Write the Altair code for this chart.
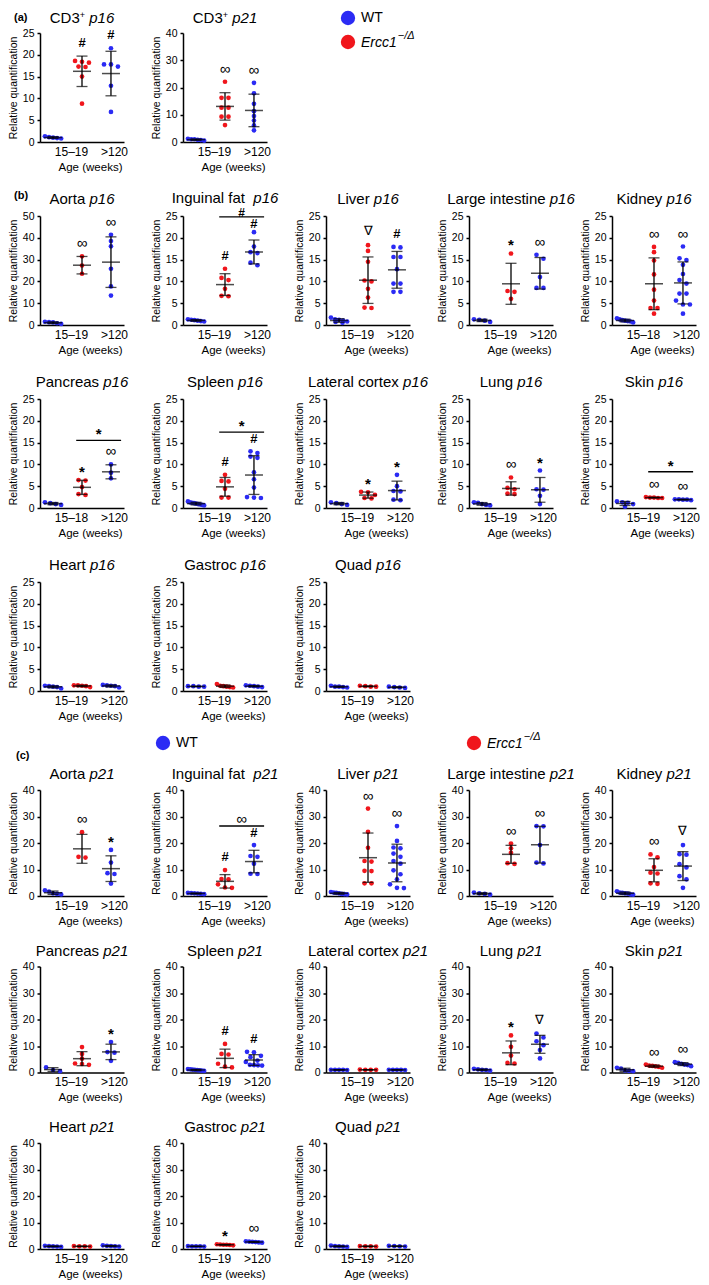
import altair as alt
import pandas as pd

FONT = "Liberation Sans"
BLUE = "#2b2bf4"
RED = "#f0161c"

W = 84
H_AB = 109
H_C = 106
SX = 59
SY_AB = 74
SY_C = 70.5
S_OUT = 9
XDOM = [0.55, 3.45]

# ---------------- data ----------------
# each tuple: (WT 15–19 wk, Ercc1-/Δ 15–19 wk, WT >120 wk)
cd3_p16 = ([1.3, 1.1, 0.9, 0.8, 1.0],
           [18.6, 18.4, 18.2, 17.3, 17.2, 15.0, 8.8],
           [21.5, 17.8, 17.8, 17.3, 12.9, 6.9])
cd3_p21 = ([0.5, 1.0, 1.2, 0.8, 1.0, 0.7],
           [22.1, 16.2, 16.2, 12.6, 12.6, 9.3, 9.3, 6.2],
           [21.7, 17.9, 14.0, 11.3, 9.5, 7.9, 6.1, 4.3])
aorta_p16 = ([0.5, 1.2, 1.5, 1.3, 0.8],
             [31.5, 27.3, 23.5],
             [41.4, 38.5, 36.1, 25.8, 17.7, 13.5])
inguinal_p16 = ([1.3, 0.9, 1.1, 0.8, 1.2, 1.0],
                [12.9, 10.8, 10.3, 8.3, 6.6, 6.7],
                [21.3, 18.0, 16.7, 16.5, 14.3, 13.7])
liver_p16 = ([0.7, 1.3, 1.7, 1.0, 0.5, 1.2, 0.8],
             [18.3, 17.0, 14.5, 10.2, 10.0, 8.3, 6.3, 4.0, 3.9],
             [17.9, 17.8, 15.6, 15.6, 12.8, 9.5, 9.5, 7.6, 7.6])
large_int_p16 = ([0.7, 1.2, 1.3, 1.0],
                 [16.4, 7.8, 7.6, 6.0],
                 [16.1, 15.2, 11.0, 8.5, 8.5])
kidney_p16 = ([0.6, 1.0, 1.5, 1.3, 0.8, 1.1, 0.9],
              [17.9, 16.7, 14.8, 11.6, 8.1, 5.6, 3.9, 3.9, 2.6],
              [18.0, 15.3, 14.9, 13.8, 11.7, 10.3, 9.5, 7.2, 7.2, 5.6, 4.7, 4.7, 2.6])
pancreas_p16 = ([0.7, 1.3, 1.1, 0.9],
                [6.4, 6.3, 4.8, 3.2, 3.0],
                [10.0, 8.1, 6.8])
spleen_p16 = ([0.6, 1.0, 1.5, 1.2, 0.8, 1.1, 0.9, 0.7, 1.3],
              [7.6, 6.2, 6.1, 4.4, 2.4, 2.4],
              [13.0, 12.6, 11.8, 11.5, 8.2, 6.6, 4.7, 2.5, 2.4, 2.3])
latcortex_p16 = ([0.7, 1.1, 1.3, 0.9],
                 [3.7, 3.6, 3.0, 2.3, 2.2],
                 [7.6, 5.0, 3.9, 3.8, 1.9, 1.8])
lung_p16 = ([0.7, 1.3, 1.2, 0.9, 0.6],
            [7.0, 4.6, 4.3, 3.3, 3.2],
            [8.6, 4.3, 4.2, 2.8, 0.9])
skin_p16 = ([1.3, 1.5, 1.2, 0.3, 0.9],
            [2.5, 2.4, 2.3, 2.3, 2.4],
            [2.0, 1.9, 1.9, 2.0, 1.8])
heart_p16 = ([1.1, 1.0, 0.9, 1.2, 0.6],
             [1.3, 1.2, 1.1, 1.3, 0.9],
             [1.4, 1.2, 1.1, 1.3, 0.8])
gastroc_p16 = ([1.1, 1.0, 1.0, 1.1],
               [1.6, 1.0, 0.9, 1.1, 0.8, 1.2],
               [1.3, 1.1, 1.0, 1.2, 0.9])
quad_p16 = ([1.2, 1.0, 0.9, 1.0, 0.8],
            [1.1, 1.0, 1.2, 1.0],
            [0.9, 0.8, 1.0, 0.7])

aorta_p21 = ([0.6, 1.0, 1.7, 2.1, 0.8],
             [24.1, 14.8, 14.5],
             [17.4, 12.6, 8.6, 8.3, 4.7])
inguinal_p21 = ([1.2, 0.8, 1.0, 1.1, 0.9, 0.7],
                [9.8, 6.4, 6.3, 4.4, 3.2, 3.1],
                [19.2, 15.1, 14.8, 12.2, 8.4, 8.3])
liver_p21 = ([0.8, 1.5, 1.3, 0.6, 1.0, 1.2, 0.7],
             [33.0, 24.2, 18.2, 13.2, 13.0, 9.5, 9.4, 4.8, 4.8],
             [26.4, 20.8, 18.3, 18.0, 16.0, 14.8, 13.2, 12.2, 9.7, 8.2, 6.3, 4.4, 3.1, 3.0])
large_int_p21 = ([0.5, 1.3, 1.0, 0.8],
                 [19.8, 18.0, 16.3, 12.4, 12.1],
                 [26.4, 26.3, 19.2, 12.6, 12.3])
kidney_p21 = ([0.5, 1.0, 1.8, 1.2, 0.6, 0.9, 1.3],
              [15.7, 14.6, 10.9, 8.8, 8.5, 4.8, 4.6],
              [19.2, 15.8, 15.6, 12.0, 10.8, 7.5, 6.3, 3.1])
pancreas_p21 = ([0.5, 1.9, 0.9],
                [9.6, 7.0, 5.2, 3.4, 3.2, 2.9],
                [11.5, 7.7, 7.5, 4.4])
spleen_p21 = ([0.7, 1.0, 1.3, 0.9, 1.2, 0.8, 1.1, 0.6],
              [10.8, 7.0, 6.8, 3.3, 2.2, 1.9],
              [7.8, 7.6, 6.3, 5.8, 4.5, 4.0, 2.9, 2.8, 2.7, 2.6])
latcortex_p21 = ([1.0, 1.0, 1.0, 0.9, 1.0],
                 [1.0, 1.1, 1.0, 1.0],
                 [1.0, 1.0, 0.9, 1.0, 1.0])
lung_p21 = ([0.7, 1.4, 1.2, 0.9, 1.0],
            [14.0, 9.7, 6.4, 3.6, 3.4],
            [14.7, 13.2, 11.8, 10.3, 8.5, 5.3])
skin_p21 = ([1.8, 1.5, 0.6, 0.5, 0.8],
            [3.0, 2.5, 2.3, 2.1, 1.8, 2.6],
            [3.9, 3.6, 3.3, 2.8, 2.4, 3.0])
heart_p21 = ([1.2, 1.0, 0.9, 1.1, 0.8],
             [1.0, 0.9, 1.1, 1.0],
             [1.4, 1.2, 1.0, 0.9, 1.1])
gastroc_p21 = ([1.0, 1.1, 0.9, 1.0, 1.0],
               [1.8, 1.6, 1.5, 1.7, 1.4, 1.6],
               [2.8, 2.6, 2.5, 2.7, 2.4, 2.9])
quad_p21 = ([1.3, 1.0, 0.9, 0.8, 1.1],
            [1.0, 1.1, 0.9, 1.0],
            [1.1, 1.0, 1.2, 0.9])

# significance marks: (above Ercc1 15–19, above WT >120, over bracket, bracket level)
NO_SIG = (None, None, None, None)

# ---------------- helpers ----------------
CW = {' ': 278, 'A': 667, 'B': 667, 'C': 722, 'D': 722, 'E': 667, 'F': 611, 'G': 778,
      'H': 722, 'I': 278, 'K': 667, 'L': 556, 'P': 667, 'Q': 778, 'S': 667, 'T': 611,
      'W': 944, 'a': 556, 'b': 556, 'c': 500, 'd': 556, 'e': 556, 'f': 278, 'g': 556,
      'h': 556, 'i': 222, 'j': 222, 'k': 500, 'l': 222, 'm': 833, 'n': 556, 'o': 556,
      'p': 556, 'q': 556, 'r': 333, 's': 500, 't': 278, 'u': 556, 'v': 500, 'w': 722,
      'x': 500, 'y': 500, 'z': 500, '+': 584, '−': 584, '/': 278, 'Δ': 668}


def tw(s, size):
    return sum(CW.get(c, 556) for c in s) * size / 1000.0


ONE = pd.DataFrame({"k": [0]})


def label(s, x, y, size=15, italic=False, bold=False, align="left", baseline="alphabetic"):
    return alt.Chart(ONE).mark_text(
        text=s, align=align, baseline=baseline, font=FONT, fontSize=size,
        fontStyle="italic" if italic else "normal",
        fontWeight="bold" if bold else "normal", color="black",
    ).encode(x=alt.value(x), y=alt.value(y))


def dot(color, x, y, size=205):
    return alt.Chart(ONE).mark_circle(size=size, color=color, opacity=1).encode(
        x=alt.value(x), y=alt.value(y))


def legend_item(color, x, y, name):
    layers = [dot(color, x, y)]
    tx = x + 13
    if name == "WT":
        layers.append(label("WT", tx, y, size=14, baseline="middle"))
    else:
        layers.append(label("Ercc1", tx, y + 1, size=14, italic=True, baseline="middle"))
        layers.append(label("−/Δ", tx + tw("Ercc1", 14) + 1, y - 6, size=11,
                            italic=True, baseline="middle"))
    return layers


def title_layers(name, gene, cx, y):
    if name == "CD3":
        segs = [("CD3", 15, 0, False), ("+", 9, -5, False), (" ", 15, 0, False), (gene, 15, 0, True)]
    else:
        segs = [(name, 15, 0, False), (" ", 15, 0, False), (gene, 15, 0, True)]
    total = sum(tw(t, s) for t, s, _, _ in segs)
    x = cx - total / 2
    out = []
    for t, s, dy, it in segs:
        if t.strip():
            out.append(label(t, x, y + dy, size=s, italic=it))
        x += tw(t, s)
    return out


def swarm(vals, u):
    thr = 4.0 * u
    order = sorted(range(len(vals)), key=lambda i: -vals[i])
    rows = []
    for i in order:
        if rows and rows[-1][0] - vals[i] <= thr:
            rows[-1][1].append(i)
        else:
            rows.append([vals[i], [i]])
    offs = [0.0] * len(vals)
    for _, idx in rows:
        n = len(idx)
        if n > 1:
            st = min(0.24, 0.56 / (n - 1))
            for k, i in enumerate(idx):
                offs[i] = (k - (n - 1) / 2) * st
    return offs


PAD_PX = {"#": 13, "∞": 13, "∇": 14, "*": 8}
BR_PAD_PX = {"#": 3.5, "∞": 7, "∇": 8, "*": 6}
SYM_SIZE = {"#": 13, "∞": 15, "∇": 13, "*": 15}
BR_SIZE = {"#": 12, "∞": 15, "∇": 13, "*": 15}
BOLD = {"#", "*"}


def panel(name, gene, data, sig, ymax, step, H, age="15–19", title_y=-12, extras=()):
    u = ymax / H
    pts_rows, summ_rows = [], []
    for gi, vals in enumerate(data, start=1):
        offs = swarm(vals, u)
        geno = "Ercc1" if gi == 2 else "WT"
        for v, o in zip(vals, offs):
            pts_rows.append({"x": gi + o, "v": v, "geno": geno})
        s = pd.Series(vals, dtype=float)
        m = float(s.mean())
        sd = float(s.std()) if len(s) > 1 else 0.0
        summ_rows.append({"g": gi, "m": m, "lo": m - sd, "hi": m + sd,
                          "top": max(float(s.max()), m + sd)})
    pts = pd.DataFrame(pts_rows)
    summ = pd.DataFrame(summ_rows)

    xs = alt.Scale(domain=XDOM, nice=False, zero=False)
    ys = alt.Scale(domain=[0, ymax], nice=False, zero=False)
    xa = alt.Axis(values=[2, 3], labelExpr=f"datum.value < 2.5 ? '{age}' : '>120'",
                  ticks=False, tickSize=0, labelPadding=4, labelFontSize=12,
                  labelOverlap=False, labelFlush=False,
                  labelOffset={"condition": {"test": "datum.value < 2.5", "value": -11}, "value": 3},
                  title="Age (weeks)", titleFontSize=11.5, titlePadding=4, titleX=50)
    ya = alt.Axis(values=list(range(0, ymax + 1, step)), tickSize=3, labelPadding=3,
                  labelFontSize=10.5, title="Relative quantification",
                  titleFontSize=10.5, titlePadding=4)

    def X(f):
        return alt.X(f, type="quantitative", scale=xs, axis=xa)

    def Y(f):
        return alt.Y(f, type="quantitative", scale=ys, axis=ya)

    layers = [
        alt.Chart(pts).mark_circle(size=22, opacity=1).encode(
            x=X("x"), y=Y("v"),
            color=alt.Color("geno:N", scale=alt.Scale(domain=["WT", "Ercc1"], range=[BLUE, RED]),
                            legend=None)),
        alt.Chart(summ).mark_rule(color="black", strokeWidth=1.3).encode(
            x=X("g"), y=Y("lo"), y2=alt.Y2("hi")),
        alt.Chart(summ).mark_tick(orient="horizontal", size=18, thickness=1.5, color="black").encode(
            x=X("g"), y=Y("m")),
        alt.Chart(summ).mark_tick(orient="horizontal", size=11, thickness=1.3, color="black").encode(
            x=X("g"), y=Y("lo")),
        alt.Chart(summ).mark_tick(orient="horizontal", size=11, thickness=1.3, color="black").encode(
            x=X("g"), y=Y("hi")),
    ]

    s2, s3, sb, br_y = sig
    cap = (br_y - 7 * u) if br_y is not None else None
    ann = []
    for gx, sym in ((2, s2), (3, s3)):
        if sym:
            yy = summ.loc[gx - 1, "top"] + PAD_PX[sym] * u
            if cap is not None:
                yy = min(yy, cap)
            ann.append({"x": gx, "y": yy, "s": sym, "fs": SYM_SIZE[sym]})
    if sb:
        br = pd.DataFrame({"x1": [1.8], "x2": [3.35], "y": [br_y]})
        layers.append(alt.Chart(br).mark_rule(color="black", strokeWidth=1.4).encode(
            x=X("x1"), x2=alt.X2("x2"), y=Y("y")))
        ann.append({"x": 2.575, "y": br_y + BR_PAD_PX[sb] * u, "s": sb, "fs": BR_SIZE[sb]})
    for a in ann:
        a["b"] = a["s"] in BOLD
    if ann:
        adf = pd.DataFrame(ann)
        for isb in (True, False):
            sub = adf[adf["b"] == isb][["x", "y", "s", "fs"]]
            if len(sub):
                layers.append(alt.Chart(sub).mark_text(
                    font=FONT, fontWeight="bold" if isb else "normal", baseline="middle",
                    color="black").encode(x=X("x"), y=Y("y"), text=alt.Text("s:N"),
                                          size=alt.Size("fs:Q", scale=None)))

    layers += title_layers(name, gene, W / 2, title_y)
    layers += list(extras)
    return alt.layer(*layers).properties(width=W, height=H)


def filler(H):
    return alt.Chart(ONE).mark_point(opacity=0).encode(
        x=alt.value(0), y=alt.value(0)).properties(width=W, height=H)


# ---------------- grid (a) + (b) ----------------
legend_top = alt.layer(dot("white", 22, -24, size=4),
                       *legend_item(BLUE, 22, -15, "WT"),
                       *legend_item(RED, 22, 9, "Ercc1")).properties(width=W, height=H_AB)

cells_ab = [
    panel("CD3", "p16", cd3_p16, ("#", "#", None, None), 25, 5, H_AB, title_y=-10,
          extras=[label("(a)", -26, -15, size=11, bold=True, baseline="middle")]),
    panel("CD3", "p21", cd3_p21, ("∞", "∞", None, None), 40, 10, H_AB, title_y=-10),
    legend_top, filler(H_AB), filler(H_AB),
    panel("Aorta", "p16", aorta_p16, ("∞", "∞", None, None), 50, 10, H_AB,
          extras=[label("(b)", -26, -20, size=11, bold=True, baseline="middle")]),
    panel("Inguinal fat ", "p16", inguinal_p16, ("#", "#", "#", 24.8), 25, 5, H_AB, title_y=-13),
    panel("Liver", "p16", liver_p16, ("∇", "#", None, None), 25, 5, H_AB),
    panel("Large intestine", "p16", large_int_p16, ("*", "∞", None, None), 25, 5, H_AB),
    panel("Kidney", "p16", kidney_p16, ("∞", "∞", None, None), 25, 5, H_AB, age="15–18"),
    panel("Pancreas", "p16", pancreas_p16, ("*", "∞", "*", 15.5), 25, 5, H_AB, age="15–18"),
    panel("Spleen", "p16", spleen_p16, ("#", "#", "*", 17.4), 25, 5, H_AB),
    panel("Lateral cortex", "p16", latcortex_p16, ("*", "*", None, None), 25, 5, H_AB),
    panel("Lung", "p16", lung_p16, ("∞", "*", None, None), 25, 5, H_AB),
    panel("Skin", "p16", skin_p16, ("∞", "∞", "*", 8.3), 25, 5, H_AB),
    panel("Heart", "p16", heart_p16, NO_SIG, 25, 5, H_AB),
    panel("Gastroc", "p16", gastroc_p16, NO_SIG, 25, 5, H_AB),
    panel("Quad", "p16", quad_p16, NO_SIG, 25, 5, H_AB),
]

# ---------------- grid (c) ----------------
cells_c = [
    panel("Aorta", "p21", aorta_p21, ("∞", "*", None, None), 40, 10, H_C, title_y=-11,
          extras=[label("(c)", -24, -34, size=11, bold=True, baseline="middle")]),
    panel("Inguinal fat ", "p21", inguinal_p21, ("#", "#", "∞", 26.4), 40, 10, H_C, title_y=-11,
          extras=legend_item(BLUE, -20, -47, "WT")),
    panel("Liver", "p21", liver_p21, ("∞", "∞", None, None), 40, 10, H_C, title_y=-11),
    panel("Large intestine", "p21", large_int_p21, ("∞", "∞", None, None), 40, 10, H_C, title_y=-11,
          extras=legend_item(RED, 5, -47, "Ercc1")),
    panel("Kidney", "p21", kidney_p21, ("∞", "∇", None, None), 40, 10, H_C, title_y=-11),
    panel("Pancreas", "p21", pancreas_p21, (None, "*", None, None), 40, 10, H_C, title_y=-11),
    panel("Spleen", "p21", spleen_p21, ("#", "#", None, None), 40, 10, H_C, title_y=-11),
    panel("Lateral cortex", "p21", latcortex_p21, NO_SIG, 40, 10, H_C, title_y=-11),
    panel("Lung", "p21", lung_p21, ("*", "∇", None, None), 40, 10, H_C, title_y=-11),
    panel("Skin", "p21", skin_p21, ("∞", "∞", None, None), 40, 10, H_C, title_y=-11),
    panel("Heart", "p21", heart_p21, NO_SIG, 40, 10, H_C, title_y=-11),
    panel("Gastroc", "p21", gastroc_p21, ("*", "∞", None, None), 40, 10, H_C, title_y=-11),
    panel("Quad", "p21", quad_p21, NO_SIG, 40, 10, H_C, title_y=-11),
]

grid_ab = alt.concat(*cells_ab, columns=5, spacing={"row": SY_AB, "column": SX},
                     bounds="flush", align="each")
grid_c = alt.concat(*cells_c, columns=5, spacing={"row": SY_C, "column": SX},
                    bounds="flush", align="each")

chart = alt.vconcat(grid_ab, grid_c, spacing=S_OUT).properties(
    padding=0, background="white"
).configure_view(strokeWidth=0).configure_axis(
    grid=False, domainColor="black", domainWidth=1.5, tickColor="black", tickWidth=1.5,
    labelColor="black", titleColor="black", labelFont=FONT, titleFont=FONT,
    titleFontWeight="normal"
)

chart.save("out.html", embed_options={"renderer": "svg", "actions": False})
